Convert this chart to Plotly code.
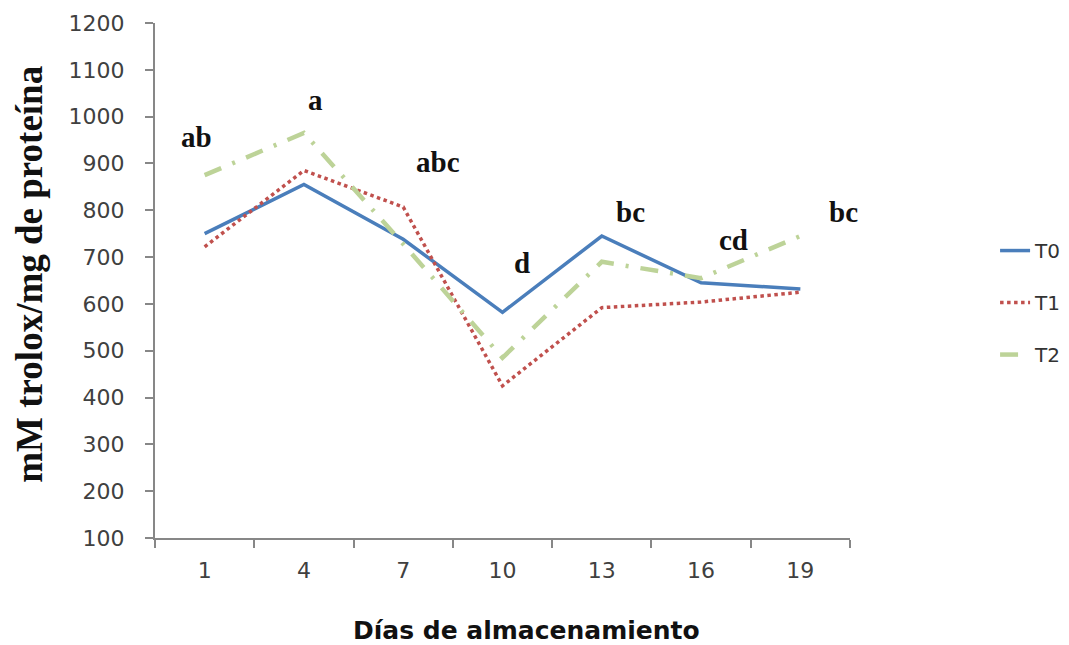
import plotly.graph_objects as go

days = ["1", "4", "7", "10", "13", "16", "19"]
t0 = [750, 855, 738, 582, 745, 645, 632]
t1 = [722, 885, 807, 425, 592, 604, 625]
t2 = [875, 965, 728, 485, 690, 655, 745]
letters = ["ab", "a", "abc", "d", "bc", "cd", "bc"]
letter_y = [956, 1035, 903, 687, 796, 736, 796]
letter_dx = [-0.08, 0.12, 0.35, 0.2, 0.29, 0.33, 0.43]

fig = go.Figure()
fig.add_trace(go.Scatter(x=days, y=t0, name="T0", mode="lines", legendgroup="a",
                         line=dict(color="#4A7EBB", width=3.5)))
fig.add_trace(go.Scatter(x=days, y=t1, name="T1", mode="lines", legendgroup="b",
                         line=dict(color="#C0504D", width=3.5, dash="dot")))
fig.add_trace(go.Scatter(x=days, y=t2, name="T2", mode="lines", legendgroup="c",
                         line=dict(color="#BDD398", width=4.5, dash="18px,12px,3px,12px")))

for i, (lab, yv, dx) in enumerate(zip(letters, letter_y, letter_dx)):
    fig.add_annotation(x=i + dx, y=yv, text=f"<b>{lab}</b>", showarrow=False,
                       xref="x", yref="y",
                       font=dict(family="Liberation Serif", size=29, color="#111111"))

# axis titles
fig.add_annotation(x=0.535, y=-0.179, xref="paper", yref="paper", showarrow=False,
                   text="<b>Días de almacenamiento</b>", xanchor="center", yanchor="middle",
                   font=dict(family="DejaVu Sans", size=25, color="#111111"))
fig.add_annotation(x=-0.18, y=0.513, xref="paper", yref="paper", showarrow=False,
                   text="<b>mM trolox/mg de proteína</b>", textangle=-90,
                   xanchor="center", yanchor="middle",
                   font=dict(family="Liberation Serif", size=37, color="#111111"))

fig.update_layout(
    template="none",
    width=1069, height=645,
    margin=dict(l=147, r=226, t=15, b=115),
    paper_bgcolor="white", plot_bgcolor="white",
    showlegend=True,
    legend=dict(x=1.207, y=0.596, xanchor="left", yanchor="top",
                font=dict(family="DejaVu Sans", size=20, color="#333333"),
                tracegroupgap=23, bgcolor="rgba(0,0,0,0)"),
    font=dict(family="DejaVu Sans"),
)
fig.update_xaxes(type="category", range=[-0.5, 6.5], showline=True, linecolor="#878787",
                 automargin=False,
                 linewidth=2, ticks="outside", tickson="boundaries", ticklen=8,
                 tickcolor="#878787", tickwidth=2, showgrid=False, zeroline=False,
                 tickfont=dict(family="DejaVu Sans", size=22, color="#404040"),
                 ticklabelstandoff=12)
fig.update_yaxes(range=[100, 1200], dtick=100, tick0=100, showline=True, linecolor="#878787",
                 automargin=False,
                 linewidth=2, ticks="outside", ticklen=8, tickcolor="#878787", tickwidth=2,
                 showgrid=False, zeroline=False,
                 tickfont=dict(family="DejaVu Sans", size=22, color="#404040"),
                 ticklabelstandoff=16)

fig.write_html("out.html")
